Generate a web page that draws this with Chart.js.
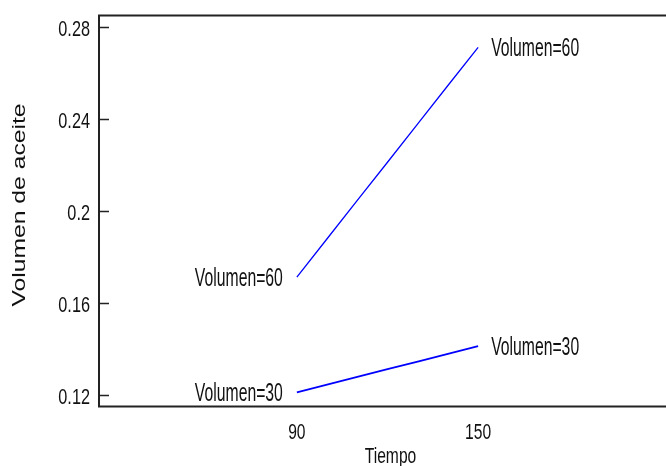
<!DOCTYPE html>
<html lang="es">

<head>
    <meta charset="UTF-8">
    <script src="https://cdn.jsdelivr.net/npm/chart.js"></script>
    <title>Volumen de aceite</title>
    <style>
        html, body { margin: 0; padding: 0; background: #fff; overflow: hidden; }
        #wrap { width: 690px; height: 466px; }
    </style>
</head>

<body>
    <div id="wrap">
        <canvas id="myChart" width="690" height="466"></canvas>
    </div>
</body>

<script>
    // data
    const tiempo = [90, 100, 110, 120, 130, 140, 150];
    const vol30 = [0.1211, 0.1245, 0.1279, 0.1312, 0.1345, 0.1379, 0.1413];
    const vol60 = [0.1713, 0.1880, 0.2047, 0.2213, 0.2380, 0.2547, 0.2713];
    const seriesNames = ['Volumen=30', 'Volumen=60'];
    const xTicks = [90, 150];
    const yTicks = [0.12, 0.16, 0.2, 0.24, 0.28];
    const yTickLabels = ['0.12', '0.16', '0.2', '0.24', '0.28'];

    const sans = "'Liberation Sans', Arial, sans-serif";
    const ink = '#111';

    function toPoints(ys) {
        return tiempo.map((t, i) => ({ x: t, y: ys[i] }));
    }

    // the reference text is squeezed sideways, so draw it scaled in x
    function squeezed(ctx, text, x, y, size, sx, align) {
        ctx.save();
        ctx.font = size + 'px ' + sans;
        ctx.textAlign = align;
        ctx.textBaseline = 'alphabetic';
        ctx.translate(x, y);
        ctx.scale(sx, 1);
        ctx.fillText(text, 0, 0);
        ctx.restore();
    }

    // frame, inside tick marks, tick labels, end labels, titles
    const decor = {
        id: 'decor',
        afterDatasetsDraw(chart) {
            const ctx = chart.ctx;
            const a = chart.chartArea;
            const xs = chart.scales.x;
            const ys = chart.scales.y;
            ctx.save();
            ctx.strokeStyle = '#222';
            ctx.lineWidth = 2;
            ctx.strokeRect(a.left, a.top + 0.5, a.right - a.left, a.bottom - a.top);
            ctx.lineWidth = 1.5;
            ctx.fillStyle = ink;
            yTicks.forEach((v, i) => {
                const py = Math.round(ys.getPixelForValue(v)) + 0.5;
                ctx.beginPath();
                ctx.moveTo(a.left, py); ctx.lineTo(a.left + 10, py);
                ctx.moveTo(a.right - 10, py); ctx.lineTo(a.right, py);
                ctx.stroke();
                squeezed(ctx, yTickLabels[i], a.left - 9, py + 8.5, 22, 0.74, 'right');
            });
            xTicks.forEach(v => {
                squeezed(ctx, String(v), xs.getPixelForValue(v), 439, 22, 0.71, 'center');
            });
            squeezed(ctx, 'Tiempo', (a.left + a.right) / 2 + 3, 463, 22, 0.71, 'center');

            // series labels at both ends of each line
            chart.data.datasets.forEach((ds, i) => {
                const pts = chart.getDatasetMeta(i).data;
                const first = pts[0], last = pts[pts.length - 1];
                squeezed(ctx, seriesNames[i], first.x - 14, first.y + 9, 25, 0.63, 'right');
                squeezed(ctx, seriesNames[i], last.x + 13, last.y + 9, 25, 0.63, 'left');
            });

            // y title, squeezed across its height
            ctx.translate(25, 205);
            ctx.rotate(-Math.PI / 2);
            ctx.scale(1, 0.73);
            ctx.font = '24.7px ' + sans;
            ctx.textAlign = 'center';
            ctx.textBaseline = 'alphabetic';
            ctx.fillText('Volumen de aceite', 0, 0);
            ctx.restore();
        }
    };

    const ctx = document.getElementById('myChart').getContext('2d');
    const myChart = new Chart(ctx, {
        type: 'line',
        data: {
            datasets: [{
                label: seriesNames[0],
                data: toPoints(vol30),
                borderColor: '#0000ff',
                borderWidth: 1.8,
                pointRadius: 0,
                tension: 0
            }, {
                label: seriesNames[1],
                data: toPoints(vol60),
                borderColor: '#0000ff',
                borderWidth: 1.3,
                pointRadius: 0,
                tension: 0
            }]
        },
        plugins: [decor],
        options: {
            responsive: false,
            animation: false,
            devicePixelRatio: 1,
            layout: { padding: { top: 15, right: 14, left: 0, bottom: 0 } },
            plugins: {
                legend: { display: false },
                tooltip: { enabled: false }
            },
            scales: {
                x: {
                    type: 'linear',
                    min: 24.5,
                    max: 215.5,
                    grid: { display: false, drawTicks: false },
                    border: { display: false },
                    ticks: { display: false },
                    afterFit: (s) => { s.height = 60; }
                },
                y: {
                    min: 0.1152,
                    max: 0.2854,
                    grid: { display: false, drawTicks: false },
                    border: { display: false },
                    ticks: { display: false },
                    afterFit: (s) => { s.width = 99; }
                }
            }
        }
    });
</script>

</html>
